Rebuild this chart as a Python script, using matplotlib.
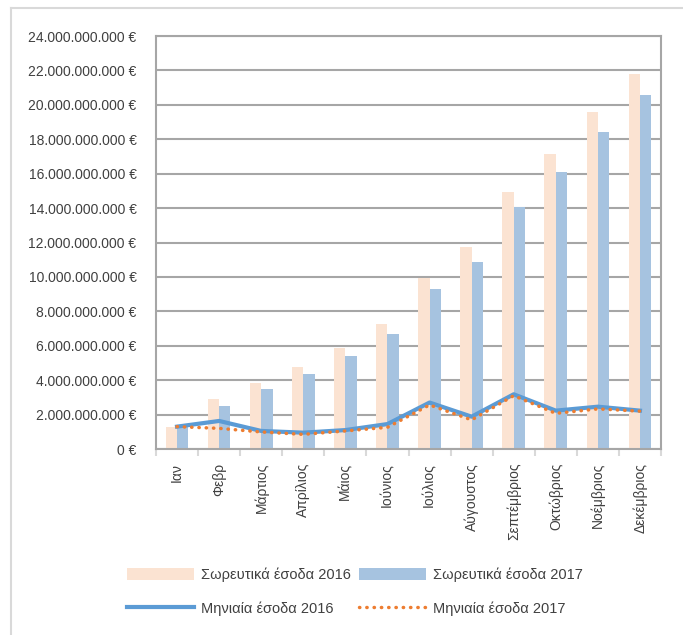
import matplotlib.pyplot as plt
import numpy as np
from matplotlib.ticker import FuncFormatter

plt.rcParams['font.family'] = ['Liberation Sans', 'DejaVu Sans']

months = ["Ιαν", "Φεβρ", "Μάρτιος", "Απρίλιος", "Μάιος", "Ιούνιος", "Ιούλιος",
          "Αύγουστος", "Σεπτέμβριος", "Οκτώβριος", "Νοέμβριος", "Δεκέμβριος"]

# values in billions of euro
cum_2016 = [1.28, 2.90, 3.84, 4.78, 5.87, 7.27, 9.96, 11.76, 14.94, 17.15, 19.60, 21.82]
cum_2017 = [1.30, 2.50, 3.50, 4.37, 5.40, 6.70, 9.28, 10.87, 14.07, 16.09, 18.43, 20.60]
month_2016 = [1.30, 1.63, 1.05, 0.95, 1.10, 1.45, 2.70, 1.88, 3.18, 2.23, 2.46, 2.23]
month_2017 = [1.30, 1.20, 0.99, 0.85, 1.05, 1.26, 2.56, 1.69, 3.10, 2.07, 2.33, 2.20]

x = np.arange(len(months))
w = 0.27

fig = plt.figure(figsize=(6.83, 6.35), dpi=100)
ax = fig.add_axes([0.2284, 0.2929, 0.7394, 0.6504])

grid_c = "#a6a6a6"
b16 = ax.bar(x - w / 2, np.array(cum_2016) * 1e9, w, color="#fbe3d2", label="Σωρευτικά έσοδα 2016", zorder=2)
b17 = ax.bar(x + w / 2, np.array(cum_2017) * 1e9, w, color="#a6c3e0", label="Σωρευτικά έσοδα 2017", zorder=2)
l16, = ax.plot(x, np.array(month_2016) * 1e9, color="#5b9bd5", lw=3, label="Μηνιαία έσοδα 2016", zorder=3)
l17, = ax.plot(x, np.array(month_2017) * 1e9, color="#ed7d31", lw=2.5, ls=(0, (0.1, 2.0)),
               dash_capstyle="round", label="Μηνιαία έσοδα 2017", zorder=4)

ax.set_xlim(-0.5, 11.5)
ax.set_ylim(0, 24e9)
ax.set_yticks(np.arange(0, 24.1e9, 2e9))
ax.yaxis.set_major_formatter(FuncFormatter(lambda v, p: "{:,.0f} €".format(v).replace(",", ".")))
ax.grid(axis="y", color=grid_c, lw=1.5, zorder=0)
for s in ax.spines.values():
    s.set_color(grid_c)
    s.set_linewidth(1.5)
ax.tick_params(axis="y", length=0, pad=14, labelsize=10, labelcolor="#404040")

ax.set_xticks(x)
ax.set_xticklabels(months, rotation=90, fontsize=10, color="#404040")
ax.tick_params(axis="x", length=0, pad=10)
ax.set_xticks(np.arange(-0.5, 12, 1), minor=True)
ax.tick_params(axis="x", which="minor", length=5, color="#d9d9d9", width=1.5)

# outer frame (left and top edges visible)
fig.add_artist(plt.Line2D([0.016, 0.016], [0, 0.987], color="#d9d9d9", lw=1.5))
fig.add_artist(plt.Line2D([0.016, 1.0], [0.987, 0.987], color="#d9d9d9", lw=1.5))

fig.legend([b16, l16, b17, l17],
           [b16.get_label(), l16.get_label(), b17.get_label(), l17.get_label()],
           loc="lower left", bbox_to_anchor=(0.166, 0.01), ncol=2, frameon=False,
           fontsize=10.5, handlelength=4.6, handleheight=0.9, columnspacing=0.55,
           labelspacing=1.3, handletextpad=0.5, labelcolor="#404040")

fig.savefig("out.png", dpi=100)
